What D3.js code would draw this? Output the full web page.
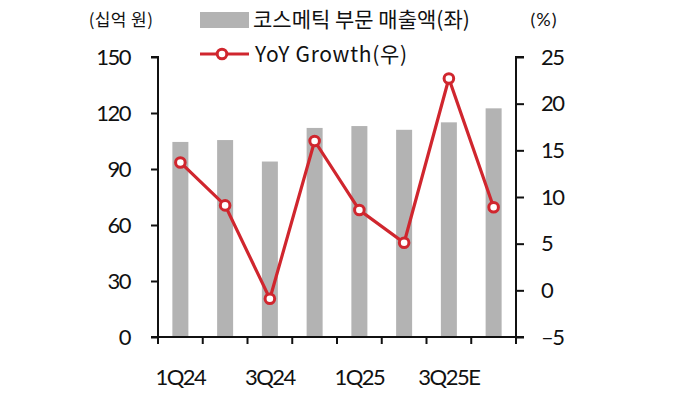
<!DOCTYPE html>
<html>
<head>
<meta charset="utf-8">
<script src="https://cdn.jsdelivr.net/npm/d3@7"></script>
<style>
  body { margin: 0; background: #fff; }
  text { font-family: Lato, "Noto Sans CJK KR", sans-serif; fill: #111; }
  .kr { font-family: "Noto Sans CJK KR", sans-serif; }
</style>
</head>
<body>
<svg id="chart" width="680" height="394"></svg>
<script>
var quarters = ["1Q24", "2Q24", "3Q24", "4Q24", "1Q25", "2Q25", "3Q25E", "4Q25E"];
var cosmeticSales = [104.5, 105.5, 94, 112, 113, 111, 115, 122.5];
var yoyGrowth = [13.7, 9.1, -0.9, 16.0, 8.6, 5.1, 22.7, 8.9];
var leftTicks = [0, 30, 60, 90, 120, 150];
var rightTicks = [-5, 0, 5, 10, 15, 20, 25];
var shownLabels = ["1Q24", "3Q24", "1Q25", "3Q25E"];

var svg = d3.select("#chart");
var plotL = 158, plotR = 516, plotT = 57, plotB = 337;
var red = "#d0262e", grey = "#b3b3b3";

var x = d3.scaleBand().domain(quarters).range([plotL, plotR]);
var yL = d3.scaleLinear().domain([0, 150]).range([plotB, plotT]);
var yR = d3.scaleLinear().domain([-5, 25]).range([plotB, plotT]);

// bars
svg.selectAll("rect.bar").data(quarters).enter().append("rect")
  .attr("class", "bar")
  .attr("x", function (d) { return x(d) + x.bandwidth() / 2 - 8; })
  .attr("width", 16)
  .attr("y", function (d, i) { return yL(cosmeticSales[i]); })
  .attr("height", function (d, i) { return plotB - yL(cosmeticSales[i]); })
  .attr("fill", grey);

// axes
var axL = svg.append("g").attr("transform", "translate(" + plotL + ",0)")
  .call(d3.axisLeft(yL).tickValues(leftTicks).tickSize(7).tickPadding(21));
var axR = svg.append("g").attr("transform", "translate(" + plotR + ",0)")
  .call(d3.axisRight(yR).tickValues(rightTicks).tickSize(8).tickFormat(function (d) { return d < 0 ? "\u2013" + (-d) : d; }).tickPadding(17));

// x axis line + ticks at band boundaries
var xTickPos = quarters.map(function (d) { return x(d); }).concat([plotR]);
svg.append("line").attr("x1", plotL - 7).attr("x2", plotR + 8)
  .attr("y1", plotB).attr("y2", plotB).attr("stroke", "#111").attr("stroke-width", 2);
svg.selectAll("line.xt").data(xTickPos).enter().append("line")
  .attr("x1", function (d) { return d; }).attr("x2", function (d) { return d; })
  .attr("y1", plotB).attr("y2", plotB + 7).attr("stroke", "#111").attr("stroke-width", 2);
svg.selectAll("text.xl").data(shownLabels).enter().append("text")
  .attr("x", function (d) { return x(d) + x.bandwidth() / 2; })
  .attr("y", 385).attr("text-anchor", "middle")
  .style("font-size", "22px").style("letter-spacing", "-1.5px")
  .text(function (d) { return d; });

[axL, axR].forEach(function (ax) {
  ax.select(".domain").attr("stroke", "#111").attr("stroke-width", 2);
  ax.selectAll(".tick line").attr("stroke", "#111").attr("stroke-width", 2);
  ax.selectAll(".tick text").style("font-size", "22px").style("letter-spacing", "-1.5px")
    .style("font-family", "Lato, sans-serif").attr("fill", "#111");
});
axL.select(".domain").attr("d", "M-7," + plotT + "H0V" + plotB + "H-7");
axR.select(".domain").attr("d", "M8," + plotT + "H0V" + (plotB + 6));

// line
var line = d3.line()
  .x(function (d, i) { return x(quarters[i]) + x.bandwidth() / 2; })
  .y(function (d) { return yR(d); });
svg.append("path").datum(yoyGrowth).attr("d", line)
  .attr("fill", "none").attr("stroke", red).attr("stroke-width", 3.2);
svg.selectAll("circle.pt").data(yoyGrowth).enter().append("circle")
  .attr("cx", function (d, i) { return x(quarters[i]) + x.bandwidth() / 2; })
  .attr("cy", function (d) { return yR(d); })
  .attr("r", 4.8).attr("fill", "#fff").attr("stroke", red).attr("stroke-width", 3);

// unit labels
svg.append("text").attr("class", "kr").attr("x", 121).attr("y", 26).attr("text-anchor", "middle")
  .style("font-size", "17px").style("letter-spacing", "0.4px").text("(십억 원)");
svg.append("text").attr("x", 544).attr("y", 26).attr("text-anchor", "middle")
  .style("font-size", "18px").style("letter-spacing", "1px").text("(%)");

// legend
svg.append("rect").attr("x", 200).attr("y", 12).attr("width", 49).attr("height", 16).attr("fill", grey);
svg.append("text").attr("class", "kr").attr("x", 253).attr("y", 27)
  .style("font-size", "21px").text("코스메틱 부문 매출액(좌)");
svg.append("line").attr("x1", 200).attr("x2", 249).attr("y1", 54).attr("y2", 54)
  .attr("stroke", red).attr("stroke-width", 3.2);
svg.append("circle").attr("cx", 222).attr("cy", 54).attr("r", 4.8)
  .attr("fill", "#fff").attr("stroke", red).attr("stroke-width", 3);
svg.append("text").attr("class", "kr").attr("x", 255).attr("y", 62)
  .style("font-size", "21px").style("letter-spacing", "0.7px").text("YoY Growth(우)");
</script>
</body>
</html>
